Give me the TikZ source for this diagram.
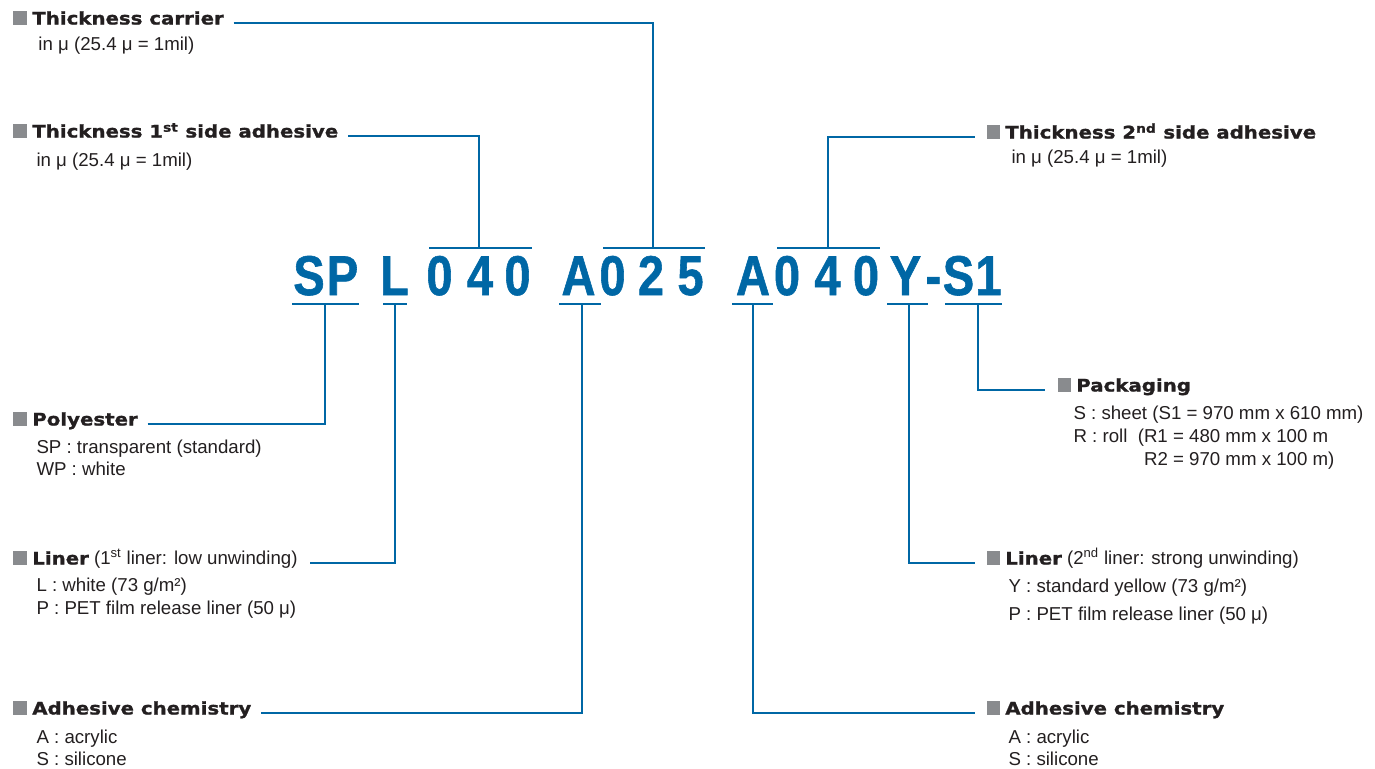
\documentclass[tikz,border=0pt]{standalone}
\usepackage{fontspec}
\setmainfont{Liberation Sans}
\newfontfamily\headfont{DejaVu Sans Bold}[FakeStretch=1.14,FakeBold=1.2]
\newfontfamily\codefont{Liberation Sans Bold}[FakeStretch=0.84,FakeBold=1]

\definecolor{codeblue}{HTML}{0067A5}
\definecolor{bulletgrey}{HTML}{898B8E}
\definecolor{textdark}{HTML}{231F20}

\newcommand{\hbullet}{\textcolor{bulletgrey}{\rule{9.8pt}{9.8pt}}\hspace{4.3pt}}

\tikzset{every picture/.style={line width=0.75pt}}
\tikzset{
  link/.style={draw=codeblue, line width=1.5pt},
  heading/.style={anchor=base west, inner sep=0pt, text=textdark, font=\headfont\fontsize{13}{15}\selectfont},
  desc/.style={anchor=base west, inner sep=0pt, align=left, text=textdark, font=\fontsize{14}{16.5}\selectfont},
  codechar/.style={anchor=base, inner sep=0pt, text=codeblue, font=\codefont\fontsize{42}{44}\selectfont}
}

\begin{document}
\begin{tikzpicture}[x=0.75pt,y=0.75pt,yscale=-1,xscale=1]
\useasboundingbox (0,0) rectangle (1375,768);

% Code letters
\foreach \ch/\cx [count=\i] in {S/309,P/342.5,L/394.5,0/439.5,4/480,0/517.5,A/578.5,0/612.5,2/651,5/690.5,A/753,0/787,4/827.5,0/866,Y/905.5,-/933.5,S/958.5,1/988.5}
  \node[codechar] (ch\i) at (\cx,295) {\ch};

% Bars over and under the code
\coordinate (barSP) at (325,304);
\coordinate (barL) at (395,304);
\coordinate (bar040a) at (479,247.5);
\coordinate (barA1) at (582,304);
\coordinate (bar025) at (653,247.5);
\coordinate (barA2) at (753,304);
\coordinate (bar040b) at (828,247.5);
\coordinate (barY) at (909,304);
\coordinate (barS1) at (978,304);
\draw[link] (292,304) -- (359,304) ;
\draw[link] (383,304) -- (407,304) ;
\draw[link] (429,247.5) -- (532,247.5) ;
\draw[link] (559,304) -- (601,304) ;
\draw[link] (603,247.5) -- (705,247.5) ;
\draw[link] (732,304) -- (773,304) ;
\draw[link] (777,247.5) -- (880,247.5) ;
\draw[link] (887,304) -- (928,304) ;
\draw[link] (945,304) -- (1002,304) ;

% Headings
\node[heading] (hcar) at (13,24.5) {\hbullet Thickness carrier};
\node[heading] (hfirst) at (13,137.5) {\hbullet Thickness 1\textsuperscript{st} side adhesive};
\node[heading] (hsecond) at (986,138.5) {\hbullet Thickness 2\textsuperscript{nd} side adhesive};
\node[heading] (hpack) at (1057,391.5) {\hbullet Packaging};
\node[heading] (hpoly) at (13,425.5) {\hbullet Polyester};
\node[heading] (hlinerA) at (13,564.5) {\hbullet Liner{\normalfont\fontsize{14}{16.5}\selectfont\ (1\textsuperscript{st} liner: low unwinding)}};
\node[heading] (hchemA) at (13,714.5) {\hbullet Adhesive chemistry};
\node[heading] (hlinerB) at (986,564.5) {\hbullet Liner{\normalfont\fontsize{14}{16.5}\selectfont\ (2\textsuperscript{nd} liner: strong unwinding)}};
\node[heading] (hchemB) at (986,714.5) {\hbullet Adhesive chemistry};

% Descriptions (placed by the baseline of their last line)
\node[desc] (dcar) at (38,50.5) {in μ (25.4 μ = 1mil)};
\node[desc] (dfirst) at (36,166.5) {in μ (25.4 μ = 1mil)};
\node[desc] (dsecond) at (1011,163.5) {in μ (25.4 μ = 1mil)};
\node[desc] (dpack) at (1073,465.5) {S : sheet (S1 = 970 mm x 610 mm)\\[0.75pt]R : roll\ \ (R1 = 480 mm x 100 m\\[0.75pt]\hphantom{R : roll\ \ (}R2 = 970 mm x 100 m)};
\node[desc] (dpoly) at (36,475.5) {SP : transparent (standard)\\WP : white};
\node[desc] (dlinerA) at (36,614.5) {L : white (73 g/m²)\\[0.75pt]P : PET film release liner (50 μ)};
\node[desc] (dchemA) at (36,765.5) {A : acrylic\\S : silicone};
\node[desc] (dlinerB) at (1008,620.5) {Y : standard yellow (73 g/m²)\\[4.5pt]P : PET film release liner (50 μ)};
\node[desc] (dchemB) at (1008,765.5) {A : acrylic\\S : silicone};

% Connectors
\draw[link, shorten <=7pt] ([yshift=-1.1pt]hcar.base east) -| (bar025) ;
\draw[link, shorten <=7pt] ([yshift=-1.1pt]hfirst.base east) -| (bar040a) ;
\draw[link, shorten >=8pt] (bar040b) |- ([yshift=-1.1pt]hsecond.base west) ;
\draw[link, shorten >=9pt] (barS1) |- ([yshift=-1.1pt]hpack.base west) ;
\draw[link, shorten <=7pt] ([yshift=-1.1pt]hpoly.base east) -| (barSP) ;
\draw[link, shorten <=9pt] ([yshift=-1.1pt]hlinerA.base east) -| (barL) ;
\draw[link, shorten <=7pt] ([yshift=-1.1pt]hchemA.base east) -| (barA1) ;
\draw[link, shorten >=8pt] (barA2) |- ([yshift=-1.1pt]hchemB.base west) ;
\draw[link, shorten >=8pt] (barY) |- ([yshift=-1.1pt]hlinerB.base west) ;

\end{tikzpicture}
\end{document}
